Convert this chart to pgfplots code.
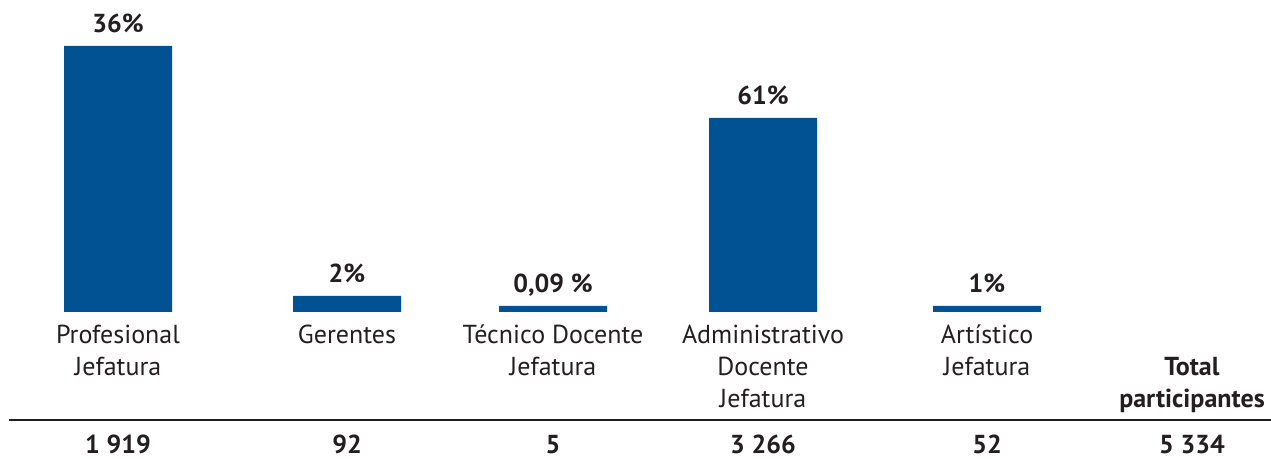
\documentclass[border=0pt]{standalone}
\usepackage{pgfplots}
\pgfplotsset{compat=1.18}
\usepackage{fontspec}
\setmainfont{PT Sans}
\definecolor{barblue}{RGB}{0,82,147}
\definecolor{txt}{RGB}{35,31,32}
\begin{document}
\begin{tikzpicture}
\begin{axis}[
  x=0.5pt, y=0.5pt,
  xmin=0, xmax=1271, ymin=-147, ymax=312,
  axis line style={draw=none}, tick style={draw=none},
  ytick=\empty,
  xtick={118,347,553,763,987,1192},
  xticklabels={{Profesional\\Jefatura\\\mbox{}}, {Gerentes\\\mbox{}\\\mbox{}}, {Técnico Docente\\Jefatura\\\mbox{}}, {Administrativo\\Docente\\Jefatura}, {Artístico\\Jefatura\\\mbox{}}, {\mbox{}\\\textbf{Total}\\\textbf{participantes}}},
  xticklabel style={align=center, anchor=base, yshift=30pt, text=txt, font=\fontsize{13pt}{16pt}\selectfont},
  ybar, bar width=108, bar shift=0pt,
  point meta=explicit symbolic,
  nodes near coords,
  nodes near coords style={anchor=base, yshift=6.5pt, text=txt, font=\fontsize{13pt}{16pt}\selectfont\bfseries},
  clip=false,
]
\addplot[fill=barblue, draw=none] coordinates {
  (118,266) [36\%]
  (347,16) [2\%]
  (553,6) [0,09~\%]
  (763,194) [61\%]
  (987,6) [1\%]
};
\draw[txt, line width=1pt] (axis cs:9,-108) -- (axis cs:1271,-108);
\begin{scope}[every node/.style={anchor=base, text=txt, font=\fontsize{13pt}{16pt}\selectfont\bfseries}]
\node at (axis cs:118,-142) {1 919};
\node at (axis cs:347,-142) {92};
\node at (axis cs:553,-142) {5};
\node at (axis cs:763,-142) {3 266};
\node at (axis cs:987,-142) {52};
\node at (axis cs:1192,-142) {5 334};
\end{scope}
\end{axis}
\pgfresetboundingbox
\path (current axis.south west) rectangle (current axis.north east);
\end{tikzpicture}
\end{document}
